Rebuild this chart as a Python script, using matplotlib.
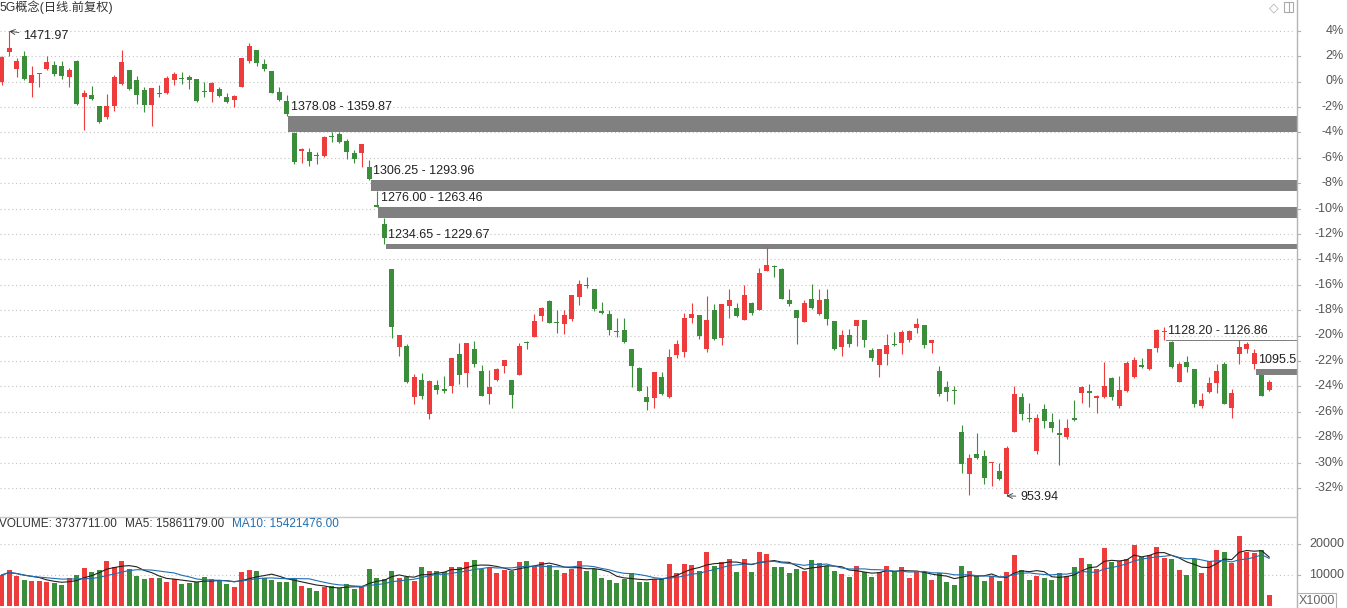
import matplotlib.pyplot as plt
import numpy as np
import pandas as pd
from matplotlib.patches import Rectangle
from matplotlib.lines import Line2D

plt.rcParams['font.family'] = ['Liberation Sans', 'Noto Sans CJK SC', 'DejaVu Sans']

### DATA (candles in % of the 0% price on the right axis, volume in x1000)
BASE = 1416.0

opens = [0, 2.32, 0.98, 2.03, -0.08, 0.58, 1.0, 1.32, 1.24, 0.34,
         1.58, -1.19, -1.06, -1.93, -2.82, -1.93, -0.18, 0.92, 0.13, -0.66,
         -1.85, -0.92, -0.92, 0.13, 0.24, 0.32, 0.18, -0.74, -0.79, -0.61,
         -1.24, -1.45, -0.4, 1.58, 2.45, 1.4, 0.79, -0.84, -1.53, -4.05,
         -5.47, -5.55, -5.81, -5.86, -4.31, -4.1, -4.68, -5.63, -5.63, -6.73,
         -9.8, -11.19, -14.79, -20.9, -20.85, -24.84, -23.48, -26.15, -23.87, -24.3,
         -23.97, -21.48, -22.95, -21.03, -22.82, -24.63, -23.53, -22.4, -23.48, -23.13,
         -20.54, -20.12, -18.49, -17.31, -18.98, -19.07, -18.67, -16.97, -16.03, -16.36,
         -18.17, -18.28, -19.7, -19.59, -21.03, -22.56, -24.84, -24.92, -23.29, -24.87,
         -21.57, -21.31, -18.59, -18.41, -21.04, -18.01, -20.17, -17.69, -17.8, -18.75,
         -17.48, -17.96, -14.9, -14.53, -14.79, -17.22, -17.96, -18.93, -17.09, -18.27,
         -17.09, -18.88, -20.91, -19.99, -19.28, -18.8, -21.18, -22.36, -21.44, -20.7,
         -20.6, -20.33, -19.41, -19.2, -20.6, -22.76, -24.08, -24.32, -27.59, -30.9,
         -29.37, -29.5, -30.03, -30.63, -32.48, -27.57, -24.88, -26.57, -29.1, -25.8,
         -26.81, -27.76, -27.99, -26.46, -24.56, -24.35, -24.93, -24.88, -23.35, -25.54,
         -24.35, -23.3, -22.43, -22.64, -21.0, -19.74, -20.53, -23.64, -22.06, -22.64,
         -25.54, -24.41, -23.77, -22.24, -25.73, -21.45, -21.06, -22.24, -23.09, -24.3]

highs = [2.0, 3.95, 1.85, 2.43, 1.24, 0.66, 2.03, 1.58, 1.58, 1.1,
         1.71, -0.66, -0.34, -1.9, -0.98, 0.53, 2.5, 0.92, 0.45, -0.4,
         -0.53, -0.26, 0.4, 0.74, 0.74, 0.53, 0.18, 0, 0, -0.47,
         -0.92, -1.06, 1.85, 3.03, 2.45, 1.77, 0.79, -0.47, -1.06, -3.96,
         -5.23, -5.21, -5.55, -4.31, -4.0, -4.0, -4.5, -5.42, -4.94, -6.2,
         -8.62, -10.77, -14.79, -19.93, -20.64, -23.06, -22.96, -23.48, -23.48, -23.22,
         -21.74, -20.59, -20.56, -20.43, -22.29, -22.74, -22.56, -21.95, -23.48, -20.59,
         -20.43, -18.33, -17.75, -17.23, -18.02, -18.02, -16.83, -15.6, -15.39, -16.31,
         -17.36, -17.96, -18.62, -18.6, -21.03, -22.48, -23.97, -22.87, -22.89, -21.04,
         -20.39, -18.22, -17.43, -18.41, -16.9, -17.54, -17.54, -16.3, -17.43, -16.03,
         -17.35, -14.71, -13.0, -14.45, -14.71, -16.37, -17.96, -17.17, -15.95, -16.3,
         -16.3, -18.88, -19.59, -19.46, -18.8, -18.8, -20.97, -21.04, -19.91, -19.7,
         -19.54, -19.54, -18.59, -19.15, -20.39, -22.42, -23.55, -23.95, -27.03, -29.37,
         -27.7, -29.05, -29.97, -30.03, -28.71, -23.96, -24.49, -25.28, -26.15, -25.36,
         -26.07, -26.6, -26.6, -25.09, -23.96, -23.83, -24.7, -22.11, -23.25, -23.17,
         -21.98, -21.66, -21.77, -21.06, -19.47, -19.34, -20.42, -22.06, -21.58, -22.64,
         -24.49, -23.3, -22.24, -22.06, -24.22, -20.34, -20.53, -21.06, -23.09, -23.48]

lows = [-0.3, 2.03, 0.34, 0.13, -1.19, -0.47, 0.92, 0.4, 0.21, -0.4,
        -1.85, -3.83, -1.45, -3.25, -2.93, -2.3, -0.26, -0.66, -1.77, -2.37,
        -3.51, -1.19, -0.98, -0.26, -0.18, -0.61, -1.58, -1.19, -1.58, -1.19,
        -1.71, -2.03, -0.45, 1.45, 1.19, 0.79, -0.92, -1.53, -2.68, -6.47,
        -6.41, -6.65, -6.47, -5.94, -4.76, -4.84, -6.07, -6.41, -6.73, -7.75,
        -9.89, -12.81, -20.17, -21.64, -23.74, -25.42, -24.97, -26.55, -24.58, -24.5,
        -24.5, -23.84, -24.03, -22.48, -24.79, -25.36, -23.58, -22.95, -25.68, -23.13,
        -21.03, -20.12, -18.86, -19.02, -19.8, -19.85, -18.88, -17.57, -16.23, -18.1,
        -18.33, -19.94, -20.15, -20.56, -24.05, -24.37, -25.89, -25.68, -24.66, -24.92,
        -21.78, -21.7, -19.01, -20.25, -21.31, -20.33, -20.78, -18.59, -18.54, -18.75,
        -18.41, -18.01, -14.9, -15.42, -17.14, -17.69, -20.65, -18.93, -17.88, -18.41,
        -19.2, -21.12, -21.65, -20.91, -20.86, -20.91, -22.02, -23.29, -22.36, -20.86,
        -21.49, -20.52, -19.8, -20.97, -21.39, -24.74, -25.19, -25.4, -30.81, -32.53,
        -29.76, -31.69, -31.82, -31.35, -32.63, -27.57, -26.65, -26.78, -29.37, -27.31,
        -27.57, -30.16, -28.18, -26.73, -25.28, -25.62, -26.07, -24.93, -25.07, -25.73,
        -24.41, -23.35, -22.56, -22.69, -21.32, -20.33, -22.59, -23.69, -22.9, -25.62,
        -25.73, -24.56, -24.56, -25.41, -26.52, -22.24, -21.4, -22.63, -24.8, -24.35]

closes = [1.9, 2.64, 1.64, 0.21, 0.53, 0.66, 1.56, 0.58, 0.47, 0.92,
          -1.77, -0.87, -1.37, -3.17, -1.93, 0.34, 1.53, -0.61, -1.06, -1.85,
          -0.53, -0.98, 0.26, 0.61, 0.21, 0.13, -1.53, -0.82, -0.13, -1.13,
          -1.58, -1.11, 1.85, 2.82, 1.45, 1.0, -0.87, -1.45, -2.56, -6.34,
          -5.29, -6.26, -5.86, -4.37, -4.37, -4.76, -5.55, -6.07, -4.94, -7.7,
          -9.85, -12.29, -19.33, -19.93, -23.66, -23.27, -24.79, -23.6, -24.26, -24.34,
          -21.74, -23.13, -20.56, -22.22, -24.76, -24.05, -22.6, -21.95, -24.71, -20.85,
          -20.59, -18.82, -17.81, -19.02, -19.02, -18.41, -16.83, -15.92, -16.1, -17.94,
          -18.2, -19.54, -19.75, -20.51, -22.4, -24.37, -25.23, -22.87, -24.61, -21.7,
          -20.65, -18.59, -18.33, -20.07, -18.8, -20.25, -17.54, -17.17, -18.49, -16.82,
          -18.22, -15.06, -14.45, -14.58, -17.09, -17.54, -18.59, -17.43, -17.8, -17.17,
          -18.67, -21.04, -19.99, -20.65, -18.8, -20.33, -21.76, -21.04, -20.78, -20.75,
          -19.73, -19.67, -19.12, -20.78, -20.39, -24.61, -24.47, -24.37, -30.15, -29.63,
          -29.63, -31.21, -29.97, -31.29, -28.84, -24.62, -26.2, -26.6, -26.46, -26.73,
          -27.26, -27.8, -27.31, -26.68, -24.04, -24.56, -24.75, -23.96, -24.88, -24.3,
          -22.16, -21.93, -22.45, -21.06, -19.6, -19.68, -22.45, -22.24, -22.51, -25.36,
          -25.07, -23.77, -22.77, -25.36, -24.49, -20.92, -20.66, -21.4, -24.75, -23.64]

volume = [10100, 11700, 9900, 8500, 8150, 8150, 7950, 7600, 6900, 9000,
          10100, 12500, 10950, 11700, 14600, 12800, 14600, 11900, 9800, 8800,
          9200, 9200, 7950, 8700, 7200, 7600, 7700, 9450, 8700, 8250,
          7200, 6200, 11050, 11700, 11400, 9200, 8500, 7700, 7700, 9000,
          6500, 6000, 5050, 6350, 6500, 5800, 7200, 5600, 6350, 12000,
          9200, 8800, 11400, 9200, 9350, 8250, 12800, 11400, 11400, 11200,
          12550, 12800, 14400, 14900, 11900, 12250, 10850, 11700, 11400, 14400,
          14600, 13000, 14400, 13300, 11700, 10850, 11900, 14600, 11500, 11900,
          9000, 8500, 7600, 8800, 10850, 7700, 7700, 8800, 8700, 13500,
          10850, 13500, 13300, 11400, 17600, 13000, 14200, 15300, 11200, 15300,
          11200, 17600, 16900, 12800, 12800, 10850, 12000, 11400, 14900, 14100,
          13000, 11400, 10400, 9550, 13000, 10950, 9550, 11200, 13000, 11400,
          12550, 9000, 10950, 10950, 8500, 10650, 7700, 6900, 13000, 11400,
          9800, 8150, 9800, 8150, 10950, 16550, 11700, 8500, 9800, 9200,
          8500, 10650, 9800, 12550, 15600, 13650, 12000, 18700, 14200, 14600,
          15300, 19800, 15800, 16450, 19000, 15600, 15150, 11700, 10100, 15150,
          10850, 14700, 18200, 17400, 14100, 22700, 17600, 17100, 18200, 3738]

pct_ticks = list(range(4, -33, -2))
vol_ticks = [10000, 20000]

# price gaps: candle index where the gap starts, upper price, lower price, label shown
gap_start = [38, 49, 50, 51, 155, 167]
gap_top = [1378.08, 1306.25, 1276.00, 1234.65, 1128.20, 1095.54]
gap_bottom = [1359.87, 1293.96, 1263.46, 1229.67, 1126.86, 1089.01]
gap_label = ['1378.08 - 1359.87', '1306.25 - 1293.96', '1276.00 - 1263.46',
             '1234.65 - 1229.67', '1128.20 - 1126.86', '1095.5']

title = '5G概念(日线.前复权)'
hi_idx, hi_price = 1, 1471.97
lo_idx, lo_price = 134, 953.94

RED = '#ee3c3c'
GREEN = '#3a8e3a'

# ------------------------- LAYOUT (pixels) -------------------------
W, H = 1347, 608
axis_x = 1296.7    # right axis line
sep_y = 517        # split between price and volume panel

def pct(p):
    return (p / BASE - 1) * 100

n = len(opens)
x = np.arange(n)
o, h, l, c = map(np.array, (opens, highs, lows, closes))
up = c >= o
colors = np.where(up, RED, GREEN)

fig = plt.figure(figsize=(W / 100, H / 100), dpi=100)
ax = fig.add_axes([0, (H - sep_y) / H, axis_x / W, sep_y / H])
axv = fig.add_axes([0, 0, axis_x / W, (H - sep_y) / H])
for a in (ax, axv):
    a.set_xlim(-1.7 / 7.5, (axis_x - 1.7) / 7.5)
    a.axis('off')
ax.set_ylim((81.5 - sep_y) / 12.7, 81.5 / 12.7)
axv.set_ylim((606.3 - H) / 31 * 10000, (606.3 - sep_y) / 31 * 10000)

# grid
for p in pct_ticks:
    ax.axhline(p, xmax=1292.7 / axis_x, color='#c4c4c4', lw=0.8, ls=(0, (1, 2.5)), zorder=0)
for v in vol_ticks:
    axv.axhline(v, xmax=1292.7 / axis_x, color='#c4c4c4', lw=0.8, ls=(0, (1, 2.5)), zorder=0)

# gaps
xr = ax.get_xlim()[1]
for s, t, b, lab in zip(gap_start, gap_top, gap_bottom, gap_label):
    ax.add_patch(Rectangle((s + 0.2, pct(b)), xr - s - 0.2, max(pct(t) - pct(b), 0.1),
                           color='#808080', lw=0, zorder=1))
    ax.annotate(lab, (s + 0.55, pct(t)), xytext=(0, 6.3),
                textcoords='offset points', ha='left', va='center', fontsize=9,
                color='#222222', zorder=4)

# candles
ax.vlines(x, l, h, colors=colors, lw=0.8, zorder=2)
body = np.maximum(np.abs(c - o), 0.09)
ax.bar(x, body, bottom=np.minimum(o, c), width=0.66, color=colors, lw=0, zorder=3)

ax.annotate(f'{hi_price:.2f}', (hi_idx, pct(hi_price)), xytext=(10, -3.2),
            textcoords='offset points', ha='left', va='center', fontsize=9, color='#222222',
            arrowprops=dict(arrowstyle='->', lw=0.6, color='#333333', shrinkA=1, shrinkB=0))
ax.annotate(f'{lo_price:.2f}', (lo_idx, pct(lo_price)), xytext=(9.6, -0.5),
            textcoords='offset points', ha='left', va='center', fontsize=9, color='#222222',
            arrowprops=dict(arrowstyle='->', lw=0.6, color='#333333', shrinkA=1, shrinkB=0))

# volume
axv.bar(x, volume, width=0.66, color=colors, lw=0, zorder=2)
vol = pd.Series(volume, dtype=float)
axv.plot(x, vol.rolling(5, min_periods=1).mean(), color='#222222', lw=0.8, zorder=3)
axv.plot(x, vol.rolling(10, min_periods=1).mean(), color='#1f6fb2', lw=0.8, zorder=3)

# right axis labels
ytr = ax.get_yaxis_transform()
for p in pct_ticks:
    ax.text(1344 / axis_x, p, f'{p}%', transform=ytr, ha='right', va='center',
            fontsize=9, color='#555555', clip_on=False)
    ax.plot([1.0, 1300 / axis_x], [p, p], transform=ytr, color='#b0b0b0', lw=0.8, clip_on=False)
yvr = axv.get_yaxis_transform()
for v in vol_ticks:
    axv.text(1344 / axis_x, v, f'{v}', transform=yvr, ha='right', va='center',
             fontsize=9, color='#555555', clip_on=False)
    axv.plot([1.0, 1300 / axis_x], [v, v], transform=yvr, color='#b0b0b0', lw=0.8, clip_on=False)

# frame lines
fig.add_artist(Line2D([axis_x / W] * 2, [0, 1], color='#b4b4b4', lw=1))
fig.add_artist(Line2D([0, axis_x / W], [1 - sep_y / H] * 2, color='#c8c8c8', lw=1))

# texts
fig.text(-1 / W, 1 - 7 / H, title, ha='left', va='center', fontsize=8.8, color='#333333')
fig.text(-1 / W, 1 - 524 / H, 'VOLUME: 3737711.00', ha='left', va='center', fontsize=8.5, color='#333333')
fig.text(125 / W, 1 - 524 / H, 'MA5: 15861179.00', ha='left', va='center', fontsize=8.5, color='#333333')
fig.text(232 / W, 1 - 524 / H, 'MA10: 15421476.00', ha='left', va='center', fontsize=8.5, color='#1f6fb2')

# small icons top right and unit box
fig.text(1274 / W, 1 - 8 / H, '◇', ha='center', va='center', fontsize=9,
         color='#aaaaaa', family='DejaVu Sans')
fig.add_artist(Rectangle((1284 / W, 1 - 12 / H), 9 / W, 10 / H, fill=False, ec='#aaaaaa', lw=0.8))
fig.add_artist(Line2D([1288.5 / W] * 2, [1 - 12 / H, 1 - 2 / H], color='#aaaaaa', lw=0.8))
fig.add_artist(Rectangle((1297 / W, 0), 39 / W, 15 / H, fill=False, ec='#b0b0b0', lw=0.8))
fig.text(1317 / W, 1 - 600.5 / H, 'X1000', ha='center', va='center', fontsize=9, color='#666666')

fig.savefig('out.png', dpi=100, facecolor='white')
